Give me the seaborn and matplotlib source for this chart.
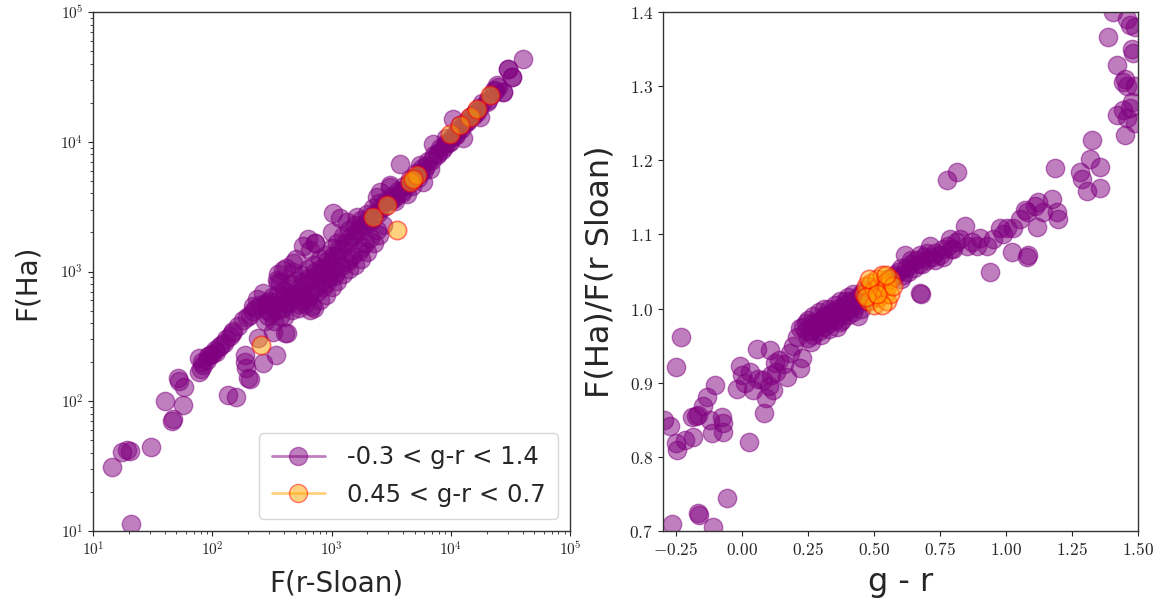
import numpy as np
import matplotlib
matplotlib.use("Agg")
import matplotlib.pyplot as plt
from matplotlib.lines import Line2D
from matplotlib.ticker import FuncFormatter, MultipleLocator
import pandas as pd
import seaborn as sns

# ---- left panel: F(Ha) vs F(r-Sloan), all colours ----
flux_r_all = [
    21, 14.5, 17.6, 20.3, 19.2, 30.8, 46, 47, 40, 57, 52, 53, 58, 135, 159, 78, 80, 84, 95, 90, 108, 115, 125, 140, 146,
    78, 82, 92, 100, 105, 118, 130, 150, 165, 180, 195, 206, 220, 235, 250,
    187, 193, 200, 206, 190, 267, 343, 323, 405, 242, 282, 300, 367, 447, 656, 680, 475, 356, 269, 236, 219, 398, 422,
    347, 395, 479, 660, 728,
    275, 288, 282, 295, 309, 324, 316, 331, 347, 363, 355, 372, 389, 407, 398, 417, 437, 457, 447, 468, 490, 513, 501,
    525, 550, 575, 562, 589, 617, 646, 631, 661, 692, 724, 708, 741, 776, 813, 794, 832, 871, 912, 891, 933, 977, 1023,
    1000, 1047,
    1096, 1148, 1122, 1230, 1288, 1259, 1380, 1445, 1413, 1549, 1622, 1585, 1738, 1820, 1778, 1950, 2042, 1995, 2188,
    2291, 2239, 2455, 2570, 2512, 2754, 2884, 3090, 3236, 3467, 3631, 3890, 4074, 4365, 4571, 4898, 5129, 5495, 5754,
    6166, 6457, 6918, 7244, 7762, 8128, 8710, 9120, 9772, 10230, 10960, 11480, 12300, 12880, 13800, 14450, 15490,
    16220, 17380, 18200, 19950, 21880, 22910, 25120, 27540, 30200, 32360, 40740,
    3750, 7150, 7620, 9100, 10500, 11900, 12700, 17600, 16500, 24300, 27600, 30400, 32400, 5890, 6700, 5520, 3090,
    2550, 3300, 4270, 1035, 1175, 1000, 1630, 1340, 3100, 2400,
    708, 794, 1000, 1259, 1585, 1995, 2291, 2512, 891, 1122, 1413, 1778, 575, 631, 724, 501, 417, 355,
    850, 950, 1100, 1200, 1400, 1700, 1900, 2100, 760, 650, 900, 1050, 1350, 1500, 1800, 2400, 2700, 580, 530, 600,
    3400, 3900, 4700, 5300, 6000, 8400, 9500, 11000, 14000, 15800, 20500, 23500,
]
flux_ha_all = [
    11.4, 31, 40.5, 41, 42, 44.5, 71, 73, 101, 94, 150, 142, 128, 111, 108, 168, 176, 190, 226, 208, 240, 262, 282, 320, 335,
    214, 200, 222, 232, 250, 270, 300, 350, 380, 420, 445, 462, 500, 520, 548,
    202, 180, 151, 149, 229, 197, 228, 343, 336, 309, 571, 590, 813, 630, 505, 540, 990, 830, 679, 615, 540, 449, 334,
    861, 1030, 1160, 1470, 1650,
    417, 501, 562, 457, 479, 550, 631, 417, 501, 603, 676, 457, 525, 631, 724, 575, 575, 676, 794, 501, 631, 724, 851,
    562, 708, 832, 933, 631, 794, 891, 1047, 692, 871, 1000, 1122, 759, 955, 1072, 1259, 851, 1047, 1202, 1349, 955,
    1148, 1318, 1514, 1047,
    1318, 1479, 1660, 1479, 1660, 1862, 1660, 1862, 2089, 1862, 2089, 2291, 2042, 2291, 2512, 2291, 2512, 2754, 2512,
    2754, 3090, 2818, 3090, 3388, 3162, 3467, 3467, 3802, 3802, 4169, 4169, 4571, 4677, 5129, 5129, 5754, 5754, 6310,
    6457, 7079, 7244, 7943, 8128, 8913, 9120, 9772, 10000, 10960, 11220, 12300, 12590, 13800, 14130, 15490, 15850,
    17380, 18200, 19950, 20420, 22910, 25120, 26300, 23990, 36310, 31620, 43650,
    6780, 9660, 7850, 10600, 15100, 13400, 10600, 15500, 16900, 27200, 24200, 36600, 31600, 4900, 6170, 6570, 4610,
    4100, 3640, 3980, 2810, 2570, 2030, 2640, 2420, 4500, 3770,
    525, 603, 759, 955, 1122, 1413, 1660, 1905, 661, 851, 1047, 1259, 1585, 1778, 1660, 1259, 1072, 955,
    760, 900, 1000, 1100, 1250, 1450, 1650, 1800, 700, 640, 820, 920, 1180, 1320, 1550, 2100, 2300, 600, 520, 560,
    3500, 4000, 4600, 5300, 6100, 8600, 9800, 11200, 14600, 16500, 21000, 24500,
]
flux_r_mid = [258, 3520, 4550, 5180, 4800, 2900, 2240, 14500, 21300, 9800, 16500, 12000]
flux_ha_mid = [272, 2090, 4920, 5510, 5200, 3260, 2640, 15500, 22800, 11500, 18000, 13500]

# ---- right panel: ratio vs g - r ----
gr_all = [
    -0.233, -0.251, -0.296, -0.273, -0.250, -0.248, -0.217, -0.185, -0.191, -0.166, -0.175, -0.147, -0.134, -0.103,
    -0.122, -0.078, -0.071, -0.071, -0.115, 0.027, -0.059, -0.166, -0.164, -0.267, -0.110,
    -0.008, -0.021, 0.000, 0.010, 0.055, 0.105, 0.080, 0.124, 0.118, 0.169, 0.083, 0.040, 0.060, 0.090, 0.100, 0.130,
    0.140, 0.030, 0.110, 0.226, 0.220, 0.194, 0.207, 0.219, 0.180, 0.160,
    0.23, 0.24, 0.25, 0.25, 0.26, 0.27, 0.27, 0.28, 0.29, 0.29, 0.30, 0.31, 0.31, 0.32, 0.33, 0.33, 0.34, 0.35, 0.35,
    0.36, 0.37, 0.37, 0.38, 0.39, 0.40, 0.40, 0.41, 0.42, 0.43, 0.44, 0.45, 0.45, 0.46, 0.47, 0.48, 0.44, 0.42, 0.36,
    0.30, 0.26, 0.38, 0.50, 0.52, 0.55, 0.58,
    0.57, 0.59, 0.60, 0.62, 0.617, 0.63, 0.64, 0.65, 0.66, 0.674, 0.674, 0.68, 0.69, 0.70, 0.712, 0.72, 0.73, 0.75,
    0.76, 0.78, 0.788, 0.80, 0.826, 0.844, 0.851, 0.87, 0.889, 0.90, 0.927, 0.939, 0.952, 0.977, 0.99, 1.002, 1.021,
    1.027, 1.053, 1.078, 1.084, 1.072, 1.11, 1.116, 1.121, 1.141, 1.173, 1.185, 1.197, 1.192, 0.813, 0.775, 0.60, 0.61,
    0.64, 0.67, 0.70, 0.73, 0.76, 0.79, 0.81, 1.08, 0.676,
    1.280, 1.287, 1.325, 1.318, 1.356, 1.305, 1.356, 1.387, 1.419, 1.444, 1.460, 1.450, 1.419, 1.444, 1.476, 1.460,
    1.450, 1.490, 1.476, 1.470, 1.460, 1.490, 1.405, 1.480, 1.490, 1.470,
    0.28, 0.32, 0.34, 0.38, 0.41, 0.43, 0.27, 0.31, 0.35, 0.39, 0.24, 0.29, 0.33, 0.37, 0.40,
]
ratio_all = [
    0.961, 0.921, 0.850, 0.841, 0.819, 0.809, 0.823, 0.827, 0.854, 0.856, 0.855, 0.868, 0.881, 0.897, 0.850, 0.854,
    0.846, 0.834, 0.832, 0.820, 0.744, 0.724, 0.722, 0.710, 0.706,
    0.922, 0.892, 0.910, 0.900, 0.946, 0.944, 0.904, 0.926, 0.890, 0.908, 0.859, 0.890, 0.905, 0.880, 0.895, 0.915,
    0.930, 0.915, 0.910, 0.933, 0.920, 0.949, 0.962, 0.974, 0.940, 0.925,
    0.975, 0.980, 0.960, 0.985, 0.970, 0.990, 0.965, 0.980, 0.995, 0.970, 0.985, 1.000, 0.975, 0.990, 1.000, 0.980,
    0.995, 1.005, 0.985, 1.000, 1.010, 0.990, 1.000, 1.010, 1.000, 1.015, 1.010, 1.020, 1.005, 1.015, 1.020, 1.000,
    1.025, 1.010, 1.030, 0.990, 0.995, 0.975, 0.965, 0.955, 0.985, 1.020, 1.030, 1.040, 1.045,
    1.043, 1.050, 1.040, 1.055, 1.072, 1.050, 1.060, 1.055, 1.065, 1.021, 1.072, 1.060, 1.070, 1.065, 1.085, 1.070,
    1.075, 1.072, 1.080, 1.085, 1.094, 1.080, 1.094, 1.112, 1.085, 1.090, 1.085, 1.095, 1.085, 1.049, 1.094, 1.108,
    1.100, 1.108, 1.076, 1.108, 1.121, 1.130, 1.072, 1.133, 1.139, 1.110, 1.144, 1.130, 1.148, 1.189, 1.121, 1.130,
    1.184, 1.173, 1.055, 1.045, 1.065, 1.060, 1.075, 1.065, 1.070, 1.080, 1.090, 1.070, 1.020,
    1.184, 1.175, 1.227, 1.202, 1.191, 1.159, 1.162, 1.366, 1.328, 1.306, 1.300, 1.310, 1.261, 1.268, 1.279, 1.257,
    1.234, 1.250, 1.350, 1.382, 1.390, 1.380, 1.400, 1.345, 1.300, 1.270,
    0.975, 0.985, 0.990, 0.995, 1.000, 1.010, 0.980, 0.990, 0.995, 1.005, 0.970, 0.978, 0.972, 0.982, 0.992,
]
gr_mid = [0.46, 0.47, 0.48, 0.49, 0.50, 0.50, 0.51, 0.52, 0.52, 0.53, 0.54, 0.54, 0.55, 0.55, 0.56, 0.56, 0.57,
          0.48, 0.47, 0.53, 0.51, 0.545]
ratio_mid = [1.020, 1.030, 1.010, 1.035, 1.025, 1.005, 1.040, 1.030, 1.015, 1.045, 1.020, 1.035, 1.010, 1.030,
             1.040, 1.020, 1.030, 1.040, 1.015, 1.005, 1.020, 1.045]

label_all = "-0.3 < g-r < 1.4"
label_mid = "0.45 < g-r < 0.7"

sns.set_style("ticks")
plt.rcParams["font.family"] = ["DejaVu Sans"]
plt.rcParams["mathtext.fontset"] = "cm"

fig = plt.figure(figsize=(11.61, 6.07), dpi=100)
ax1 = fig.add_axes([93 / 1161, 76 / 607, 477 / 1161, 519 / 607])
ax2 = fig.add_axes([663 / 1161, 76 / 607, 475 / 1161, 519 / 607])

all_style = dict(color="purple", edgecolor="purple", alpha=0.5, s=175, linewidth=1.0, legend=False)
mid_style = dict(color="orange", edgecolor="red", alpha=0.5, s=175, linewidth=1.2, legend=False)

left_all = pd.DataFrame({"fr": flux_r_all, "fha": flux_ha_all})
left_mid = pd.DataFrame({"fr": flux_r_mid, "fha": flux_ha_mid})
sns.scatterplot(data=left_all, x="fr", y="fha", ax=ax1, **all_style)
sns.scatterplot(data=left_mid, x="fr", y="fha", ax=ax1, **mid_style)
ax1.set_xscale("log")
ax1.set_yscale("log")
ax1.set_xlim(10, 1e5)
ax1.set_ylim(10, 1e5)
log_fmt = FuncFormatter(lambda v, p: r"$10^{%d}$" % round(np.log10(v)))
ax1.xaxis.set_major_formatter(log_fmt)
ax1.yaxis.set_major_formatter(log_fmt)
ax1.tick_params(axis="both", which="major", labelsize=11)
ax1.set_xlabel("F(r-Sloan)", fontsize=20)
ax1.set_ylabel("F(Ha)", fontsize=20)
ax1.yaxis.set_label_coords(-0.11, 0.48)
ax1.xaxis.set_label_coords(0.51, -0.075)

handles = [
    Line2D([0], [0], color="purple", alpha=0.5, marker="o", markersize=13, lw=2,
           markeredgecolor="purple"),
    Line2D([0], [0], color="orange", alpha=0.5, marker="o", markersize=13, lw=2,
           markeredgecolor="red"),
]
ax1.legend(handles, [label_all, label_mid], loc="lower right", fontsize=17.5, handlelength=2.2,
           borderpad=0.5, labelspacing=0.55, handletextpad=0.9, borderaxespad=0.5)

right_all = pd.DataFrame({"gr": gr_all, "ratio": ratio_all})
right_mid = pd.DataFrame({"gr": gr_mid, "ratio": ratio_mid})
sns.scatterplot(data=right_all, x="gr", y="ratio", ax=ax2, **all_style)
sns.scatterplot(data=right_mid, x="gr", y="ratio", ax=ax2, **mid_style)
ax2.set_xlim(-0.3, 1.5)
ax2.set_ylim(0.7, 1.4)
ax2.xaxis.set_major_locator(MultipleLocator(0.25))
ax2.yaxis.set_major_locator(MultipleLocator(0.1))
ax2.xaxis.set_major_formatter(FuncFormatter(lambda v, p: r"$%.2f$" % v))
ax2.yaxis.set_major_formatter(FuncFormatter(lambda v, p: r"$%.1f$" % v))
ax2.tick_params(axis="both", which="major", labelsize=12.5)
ax2.set_xlabel("g - r", fontsize=23)
ax2.set_ylabel("F(Ha)/F(r Sloan)", fontsize=23)
ax2.yaxis.set_label_coords(-0.10, 0.5)
ax2.xaxis.set_label_coords(0.5, -0.07)

for ax in (ax1, ax2):
    for sp in ax.spines.values():
        sp.set_linewidth(1.0)
        sp.set_color("#333333")

fig.savefig("out.png", dpi=100)
plt.close(fig)
